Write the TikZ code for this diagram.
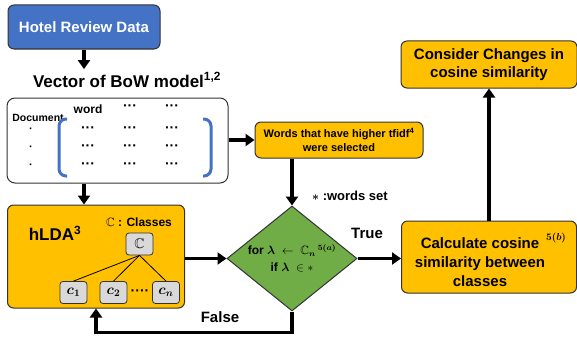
\documentclass[tikz,border=0pt]{standalone}
\usepackage{amsmath,amssymb,bm}
\usepackage{fontspec}
\setmainfont{Liberation Sans}
\usepackage{tikz}
\usetikzlibrary{positioning,shapes.geometric,arrows.meta}
\definecolor{hotelblue}{HTML}{4472C4}
\definecolor{boxorange}{HTML}{FFC000}
\definecolor{diagreen}{HTML}{70AD47}
\definecolor{classgray}{HTML}{D9D9D9}

\begin{document}
\begin{tikzpicture}[x=1pt, y=-1pt,
			bluebox/.style={rectangle, rounded corners=6pt, draw=black!80, line width=1pt, fill=hotelblue, text=white, font=\fontsize{15}{18}\selectfont\bfseries},
			whitebox/.style={rectangle, rounded corners=8pt, draw=black!80, line width=1pt, fill=white},
			orangebox/.style={rectangle, rounded corners=6pt, draw=black!80, line width=1pt, fill=boxorange, align=center},
			graybox/.style={rectangle, rounded corners=3pt, draw=black!80, line width=0.8pt, fill=classgray, minimum width=27pt, minimum height=22pt, inner sep=1pt, font=\fontsize{14}{16}\selectfont},
			diamondnode/.style={diamond, draw=black!80, line width=1pt, fill=diagreen, aspect=1.24, inner sep=0pt, align=center, font=\fontsize{12}{17}\selectfont\bfseries},
			bigtext/.style={font=\fontsize{15}{19}\selectfont\bfseries, align=center},
			celltext/.style={font=\fontsize{14}{14}\selectfont\bfseries, inner sep=0pt},
			arr/.style={-{Triangle[length=9pt,width=12pt]}, line width=3.2pt},
			bracket/.style={draw=hotelblue, line width=3pt, rounded corners=7pt},
		]
			\useasboundingbox (0,0) rectangle (577,337);
		
			%Nodes
			\node[bluebox, minimum width=152pt, minimum height=44pt] (hotel) at (84,27) {Hotel Review Data};
			\node[font=\fontsize{17}{20}\selectfont\bfseries] (vec) at (127,80) {Vector of BoW model\textsuperscript{1,2}};
		
			\node[whitebox, minimum width=221pt, minimum height=85pt] (mat) at (117.5,140.5) {};
			\node[celltext, font=\fontsize{10.5}{12}\selectfont\bfseries] (doc) at (38,118) {Document};
			\node[celltext, font=\fontsize{12}{14}\selectfont\bfseries] (word) at (88,109) {word};
			\node[celltext] (head130) at (130,108) {···};
			\node[celltext] (head172) at (172,108) {···};
			\foreach \y in {130,148,166} {
				\node[celltext, font=\fontsize{11}{11}\selectfont\bfseries] (row\y) at (31,\y) {·};
				\foreach \x in {88,130,172}
					\node[celltext] (cell\x\y) at (\x,\y) {···};
			}
			\draw[bracket] (67,119) -- (59,119) -- (59,176) -- (67,176);
			\draw[bracket] (203,119) -- (211,119) -- (211,176) -- (203,176);
		
			\node[orangebox, minimum width=168pt, minimum height=36pt, font=\fontsize{11}{14}\selectfont\bfseries] (words) at (339,140) {Words that have higher tfidf\textsuperscript{4}\\were selected};
		
			\node[orangebox, minimum width=177pt, minimum height=103pt] (hlda) at (96,256.5) {};
			\node[font=\fontsize{17}{20}\selectfont\bfseries] (hldaname) at (55,233) {hLDA\textsuperscript{3}};
			\node[font=\fontsize{12}{14}\selectfont\bfseries] (classes) at (139,222) {$\mathbb{C}$ : Classes};
			\node[graybox] (root) at (139.5,244) {$\mathbb{C}$};
			\node[graybox] (c1) at (73.5,292.5) {$\bm{c_1}$};
			\node[graybox] (c2) at (113.5,292.5) {$\bm{c_2}$};
			\node[graybox] (cn) at (166,292.5) {$\bm{c_n}$};
			\node[celltext] (cdots) at (140,293) {····};
		
			\node[diamondnode, minimum width=130pt, minimum height=105pt] (dec) at (292,258.5) {for $\bm{\lambda}\ \leftarrow\ \mathbb{C}_{\bm{n}}\,{}^{\bm{5(a)}}$\\if $\bm{\lambda}\ \in *$};
		
			\node[orangebox, minimum width=175pt, minimum height=72pt] (calc) at (489,257) {};
			\node[bigtext] (calctext) at (480,262) {Calculate cosine\\similarity between\\classes};
			\node[font=\fontsize{10}{12}\selectfont] (calcref) at (556,238) {$\bm{5(b)}$};
		
			\node[orangebox, minimum width=176pt, minimum height=47pt, font=\fontsize{15}{18}\selectfont\bfseries] (cons) at (489,64.5) {Consider Changes in\\cosine similarity};
		
			\node[font=\fontsize{13}{15}\selectfont\bfseries] (wset) at (350,196) {$\bm{*}$ :words set};
			\node[bigtext] (truelbl) at (367,233) {True};
			\node[bigtext] (falselbl) at (220,317) {False};
		
			%Lines
			\draw[arr] (hotel.south) -- (hotel.south |- vec.north);
			\draw[arr] (mat.east |- words.west) -- (words.west);
			\draw[arr] (mat.south -| hotel.south) -- (hlda.north -| hotel.south);
			\draw[arr] (words.south -| dec.north) -- (dec.north);
			\draw[arr] (hlda.east |- dec.west) -- (dec.west);
			\draw[arr] (dec.east) -- (calc.west |- dec.east);
			\draw[arr] (calc.north) -- (cons.south);
			\draw[arr] (dec.south) -- ++(0,21) -| (hlda.south);
			\draw[line width=0.8pt] (root.south) -- (c1.north);
			\draw[line width=0.8pt] (root.south) -- (c2.north);
			\draw[line width=0.8pt] (root.south) -- (cn.north);
		
		\end{tikzpicture}
\end{document}
